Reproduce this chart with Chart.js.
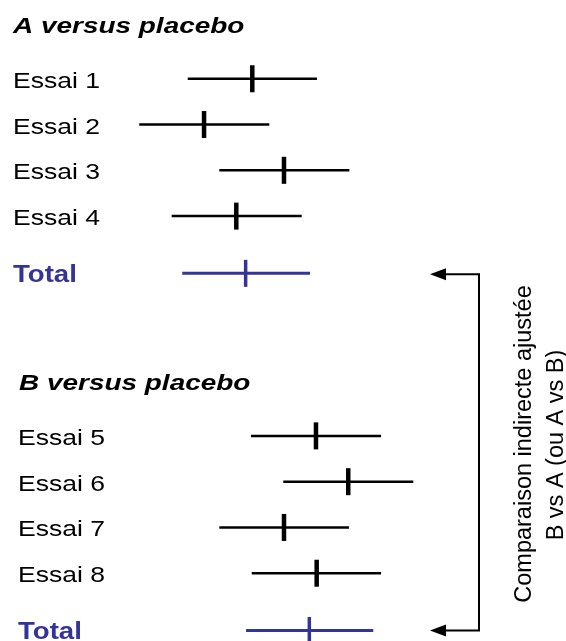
<!DOCTYPE html>
<html lang="fr">
<head>
    <meta charset="UTF-8">
    <title>Comparaison indirecte ajustée</title>
    <script src="https://cdn.jsdelivr.net/npm/chart.js"></script>
    <style>
        body {
            margin: 0;
            background: #ffffff;
        }

        #wrap {
            width: 566px;
            height: 641px;
        }
    </style>
</head>
<body>
<div id="wrap"><canvas id="forest"></canvas></div>

<script>
    // Effect estimates (log scale) with confidence interval bounds
    const labelsA = ['Essai 1', 'Essai 2', 'Essai 3', 'Essai 4', 'Total'];
    const estimateA = [-0.217, -0.558, 0.007, -0.330, -0.264];
    const lowerA = [-0.673, -1.016, -0.450, -0.787, -0.712];
    const upperA = [0.240, -0.097, 0.469, 0.132, 0.191];

    const labelsB = ['Essai 5', 'Essai 6', 'Essai 7', 'Essai 8', 'Total'];
    const estimateB = [0.233, 0.461, 0.007, 0.238, 0.186];
    const lowerB = [-0.226, 0.002, -0.450, -0.221, -0.261];
    const upperB = [0.693, 0.921, 0.466, 0.693, 0.638];

    const titleA = 'A versus placebo';
    const titleB = 'B versus placebo';
    const sideText = ['Comparaison indirecte ajustée', 'B vs A (ou A vs B)'];

    // row slots on the vertical axis
    const rowsA = [1.72, 2.72, 3.72, 4.72, 5.97];
    const rowsB = [9.52, 10.52, 11.52, 12.52, 13.77];
    const titleRowA = 0.55;
    const titleRowB = 8.37;

    const BLACK = '#000000';
    const BLUE = '#333399';
    const FONT = '"Liberation Sans", Arial, sans-serif';

    function ciDatasets(lower, upper, rows) {
        return rows.map((r, i) => ({
            type: 'line',
            data: [{x: lower[i], y: r}, {x: upper[i], y: r}],
            borderColor: i === rows.length - 1 ? BLUE : BLACK,
            borderWidth: i === rows.length - 1 ? 3 : 2.5,
            pointRadius: 0,
            showLine: true
        }));
    }

    function estDataset(est, rows) {
        return {
            type: 'scatter',
            data: est.map((v, i) => ({x: v, y: rows[i]})),
            pointStyle: 'line',
            rotation: 90,
            radius: 13.5,
            borderColor: est.map((v, i) => i === est.length - 1 ? BLUE : BLACK),
            borderWidth: est.map((v, i) => i === est.length - 1 ? 3.5 : 4.5)
        };
    }

    function stretchText(ctx, text, x, y, font, color, sx) {
        ctx.save();
        ctx.font = font;
        ctx.fillStyle = color;
        ctx.textAlign = 'left';
        ctx.textBaseline = 'alphabetic';
        ctx.translate(x, y);
        ctx.scale(sx, 1);
        ctx.fillText(text, 0, 0);
        ctx.restore();
    }

    const textPlugin = {
        id: 'forestText',
        afterDraw(chart) {
            const ctx = chart.ctx;
            const ys = chart.scales.y;

            stretchText(ctx, titleA, 13, ys.getPixelForValue(titleRowA) + 8,
                'italic bold 22px ' + FONT, BLACK, 1.27);
            stretchText(ctx, titleB, 19, ys.getPixelForValue(titleRowB) + 7,
                'italic bold 22px ' + FONT, BLACK, 1.27);

            [[labelsA, rowsA, 13], [labelsB, rowsB, 18]].forEach(([labels, rows, x]) => {
                labels.forEach((lab, i) => {
                    const total = i === labels.length - 1;
                    stretchText(ctx, lab, x, ys.getPixelForValue(rows[i]) + 9,
                        (total ? 'bold 23px ' : '22.5px ') + FONT,
                        total ? BLUE : BLACK, total ? 1.2 : 1.18);
                });
            });

            // bracket with arrows pointing back to both totals
            const yTop = ys.getPixelForValue(rowsA[rowsA.length - 1]) + 1;
            const yBot = ys.getPixelForValue(rowsB[rowsB.length - 1]);
            const xBar = 479, xTip = 430, head = 16;
            ctx.save();
            ctx.strokeStyle = BLACK;
            ctx.fillStyle = BLACK;
            ctx.lineWidth = 2;
            ctx.beginPath();
            ctx.moveTo(xTip + head - 2, yTop);
            ctx.lineTo(xBar, yTop);
            ctx.lineTo(xBar, yBot);
            ctx.lineTo(xTip + head - 2, yBot);
            ctx.stroke();
            [yTop, yBot].forEach(y => {
                ctx.beginPath();
                ctx.moveTo(xTip, y);
                ctx.lineTo(xTip + head, y - 6);
                ctx.lineTo(xTip + head, y + 6);
                ctx.closePath();
                ctx.fill();
            });

            // rotated side caption
            ctx.font = '23.5px ' + FONT;
            ctx.textAlign = 'center';
            ctx.textBaseline = 'alphabetic';
            [[sideText[0], 531, 444], [sideText[1], 563, 445]].forEach(([t, x, y]) => {
                ctx.save();
                ctx.translate(x, y);
                ctx.rotate(-Math.PI / 2);
                ctx.fillText(t, 0, 0);
                ctx.restore();
            });
            ctx.restore();
        }
    };

    const ctx = document.getElementById('forest').getContext('2d');
    new Chart(ctx, {
        type: 'scatter',
        data: {
            datasets: [
                ...ciDatasets(lowerA, upperA, rowsA),
                ...ciDatasets(lowerB, upperB, rowsB),
                estDataset(estimateA, rowsA),
                estDataset(estimateB, rowsB)
            ]
        },
        options: {
            responsive: true,
            maintainAspectRatio: false,
            animation: false,
            layout: {padding: 0, autoPadding: false},
            plugins: {
                legend: {display: false},
                tooltip: {enabled: false}
            },
            scales: {
                x: {type: 'linear', min: -2, max: 2, display: false},
                y: {type: 'linear', min: 0, max: 14, reverse: true, display: false}
            }
        },
        plugins: [textPlugin]
    });
</script>
</body>
</html>
